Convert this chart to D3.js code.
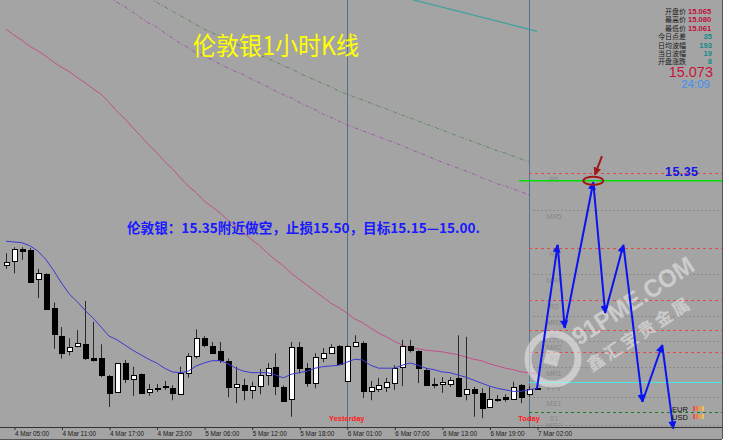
<!DOCTYPE html>
<html><head><meta charset="utf-8">
<script src="https://cdn.jsdelivr.net/npm/d3@7"></script>
<style>body{margin:0;background:#fff;overflow:hidden}</style>
</head><body><svg id="c" width="729" height="446"></svg>
<script>
// ---------- data ----------
const tickBars = [1,7,13,19,25,31,37,43,49,55,61,67];
const tickLabels = ["4 Mar 05:00","4 Mar 11:00","4 Mar 17:00","4 Mar 23:00","5 Mar 06:00","5 Mar 12:00","5 Mar 18:00","6 Mar 01:00","6 Mar 07:00","6 Mar 13:00","6 Mar 19:00","7 Mar 02:00"];
const opens = [15.237,15.243,15.258,15.257,15.219,15.225,15.180,15.142,15.122,15.129,15.131,15.112,15.112,15.089,15.067,15.106,15.085,15.091,15.067,15.071,15.074,15.072,15.064,15.092,15.115,15.139,15.129,15.122,15.108,15.074,15.076,15.070,15.075,15.090,15.101,15.074,15.058,15.127,15.099,15.079,15.112,15.120,15.129,15.082,15.129,15.133,15.068,15.071,15.074,15.079,15.101,15.129,15.122,15.097,15.078,15.078,15.078,15.086,15.064,15.071,15.066,15.047,15.058,15.060,15.058,15.076,15.065,15.072];
const highs = [15.253,15.261,15.261,15.260,15.232,15.226,15.187,15.154,15.139,15.150,15.189,15.161,15.131,15.090,15.106,15.110,15.101,15.092,15.078,15.078,15.082,15.076,15.101,15.119,15.151,15.142,15.134,15.134,15.112,15.101,15.085,15.081,15.098,15.106,15.119,15.076,15.134,15.134,15.106,15.119,15.126,15.131,15.130,15.130,15.143,15.135,15.082,15.086,15.086,15.103,15.137,15.137,15.123,15.099,15.086,15.087,15.087,15.143,15.141,15.074,15.072,15.074,15.063,15.064,15.081,15.078,15.075,15.074];
const lows = [15.232,15.226,15.244,15.214,15.193,15.177,15.125,15.112,15.116,15.127,15.110,15.108,15.087,15.047,15.066,15.079,15.062,15.065,15.062,15.067,15.070,15.056,15.063,15.086,15.112,15.127,15.118,15.106,15.060,15.052,15.056,15.058,15.064,15.076,15.063,15.054,15.034,15.092,15.074,15.072,15.107,15.119,15.103,15.081,15.127,15.059,15.056,15.067,15.067,15.070,15.075,15.120,15.079,15.075,15.072,15.066,15.074,15.060,15.056,15.034,15.032,15.047,15.054,15.054,15.057,15.052,15.061,15.070];
const closes = [15.241,15.258,15.256,15.215,15.226,15.178,15.145,15.120,15.127,15.133,15.113,15.110,15.090,15.066,15.106,15.085,15.090,15.066,15.071,15.072,15.075,15.066,15.092,15.115,15.139,15.130,15.120,15.110,15.074,15.078,15.070,15.075,15.090,15.099,15.075,15.055,15.127,15.099,15.079,15.114,15.120,15.127,15.104,15.129,15.134,15.068,15.074,15.076,15.081,15.099,15.129,15.123,15.099,15.076,15.077,15.081,15.083,15.062,15.071,15.066,15.046,15.058,15.057,15.058,15.074,15.060,15.071,15.073];
const maFast = [15.269,15.268,15.267,15.263,15.256,15.245,15.230,15.213,15.198,15.188,15.176,15.166,15.154,15.142,15.137,15.130,15.123,15.117,15.111,15.106,15.099,15.094,15.093,15.095,15.102,15.106,15.109,15.109,15.105,15.099,15.095,15.093,15.093,15.093,15.090,15.086,15.091,15.093,15.095,15.099,15.101,15.102,15.103,15.107,15.111,15.110,15.103,15.099,15.099,15.099,15.103,15.106,15.103,15.099,15.097,15.094,15.093,15.090,15.087,15.083,15.079,15.075,15.072,15.070,15.068,15.068,15.070,15.072];
const maSlow = [15.553,15.545,15.538,15.530,15.524,15.517,15.509,15.502,15.496,15.488,15.481,15.473,15.466,15.455,15.443,15.433,15.421,15.410,15.398,15.388,15.376,15.366,15.354,15.343,15.334,15.323,15.315,15.307,15.297,15.289,15.280,15.271,15.263,15.253,15.244,15.236,15.226,15.218,15.210,15.202,15.194,15.186,15.180,15.173,15.165,15.160,15.153,15.146,15.141,15.135,15.130,15.126,15.125,15.123,15.122,15.121,15.119,15.117,15.114,15.111,15.109,15.105,15.102,15.099,15.097,15.094,15.093,15.091];
const maGreenStart = 17;
const maGreen = [15.600,15.595,15.589,15.583,15.577,15.571,15.565,15.559,15.553,15.548,15.544,15.538,15.533,15.529,15.524,15.518,15.514,15.509,15.504,15.500,15.494,15.489,15.485,15.480,15.476,15.470,15.466,15.462,15.458,15.454,15.450,15.446,15.442,15.438,15.434,15.430,15.426,15.422,15.418,15.414,15.410,15.406,15.402,15.398,15.394,15.390,15.387,15.383,15.379,15.375];
const maPurpleStart = 13;
const maPurple = [15.596,15.589,15.583,15.576,15.568,15.561,15.556,15.548,15.541,15.534,15.528,15.521,15.517,15.512,15.506,15.501,15.496,15.492,15.486,15.481,15.476,15.470,15.465,15.461,15.455,15.450,15.445,15.439,15.435,15.430,15.425,15.421,15.417,15.413,15.409,15.405,15.401,15.397,15.392,15.388,15.384,15.379,15.375,15.371,15.367,15.363,15.359,15.354,15.350,15.346,15.343,15.339,15.335,15.331];
const trendBars = [50, 67];
const trendVals = [15.596, 15.550];
const pivotNames = ["R5","MR5","R4","MR4","R3","MR3","R2","MR2","R1","MR1","FPV","MS1","S1","MS2"];
const pivotVals  = [15.360,15.311,15.260,15.225,15.190,15.169,15.150,15.135,15.121,15.101,15.081,15.060,15.040,15.023];
const pivotKinds = ["r","m","r","m","r","m","r","m","r","m","p","m","s","m"];
const forecastBars = [67,69.6,70.5,74.1,75.6,77.9,80.3,82.8,84.2];
const forecastVals = [15.072,15.264,15.153,15.348,15.173,15.264,15.054,15.130,15.018];
const targetPrice = 15.35, targetBar = 74.1;
const pointerBars = [75.2, 74.3], pointerVals = [15.383, 15.358];
const yesterdayBar = 43, todayBar = 66;
const infoLabels = ["开盘价","最高价","最低价","今日点差","日均波幅","当日波幅","开盘涨跌"];
const infoValues = ["15.065","15.080","15.061","35","193","19","8"];
const lastPrice = "15.073", barTimer = "24:09";
const titleText = "伦敦银1小时K线";
const noteText = "伦敦银：15.35附近做空，止损15.50，目标15.15—15.00.";

// ---------- layout ----------
const W = 729, H = 446, plotR = 722, plotB = 427, stripB = 439;
const bg = "#a4a4a4";
const svg = d3.select("#c");
svg.append("rect").attr("width",W).attr("height",H).attr("fill","#fff");
svg.append("rect").attr("width",plotR).attr("height",stripB).attr("fill",bg);
const defs = svg.append("defs");
defs.append("clipPath").attr("id","clip").append("rect").attr("width",plotR).attr("height",plotB);
const blueHead = defs.append("marker").attr("id","bh").attr("viewBox","0 0 10 10")
  .attr("refX",9).attr("refY",5).attr("markerWidth",9).attr("markerHeight",8)
  .attr("markerUnits","userSpaceOnUse").attr("orient","auto");
blueHead.append("path").attr("d","M0,0L10,5L0,10z").attr("fill","#0a14f0");
const redHead = defs.append("marker").attr("id","rh").attr("viewBox","0 0 10 10")
  .attr("refX",9).attr("refY",5).attr("markerWidth",8).attr("markerHeight",8)
  .attr("markerUnits","userSpaceOnUse").attr("orient","auto");
redHead.append("path").attr("d","M0,0L10,5L0,10z").attr("fill","#a01818");

const x = d3.scaleLinear().domain([0,67]).range([6,537]);
const y = d3.scaleLinear().domain([15.592,15.022]).range([0,425.69]);

const plot = svg.append("g").attr("clip-path","url(#clip)");

// separators
[yesterdayBar, todayBar].forEach(b=>{
  plot.append("line").attr("x1",Math.round(x(b))+0.5).attr("x2",Math.round(x(b))+0.5)
    .attr("y1",0).attr("y2",plotB).attr("stroke","#55708e").attr("stroke-width",1);
});

// long MAs (dash-dot)
const lineGen = d3.line().x(d=>x(d[0])).y(d=>y(d[1]));
plot.append("path").attr("d",lineGen(maGreen.map((v,i)=>[i+maGreenStart,v])))
  .attr("fill","none").attr("stroke","#5f8a5f").attr("stroke-width",1).attr("stroke-dasharray","4,2,1,2");
plot.append("path").attr("d",lineGen(maPurple.map((v,i)=>[i+maPurpleStart,v])))
  .attr("fill","none").attr("stroke","#a05aa8").attr("stroke-width",1).attr("stroke-dasharray","4,2,1,2");
plot.append("path").attr("d",lineGen(trendBars.map((b,i)=>[b,trendVals[i]])))
  .attr("fill","none").attr("stroke","#3ea0a0").attr("stroke-width",1.2);

// pivot levels
const levelX0 = x(todayBar);
pivotVals.forEach((v,i)=>{
  const k = pivotKinds[i];
  const col = k==="r" ? "#e04a4a" : k==="m" ? "#8a8a8a" : k==="p" ? "#44e6e6" : "#1c7a1c";
  const dash = k==="p" ? null : (k==="m" ? "2,2" : "3,3");
  const yy = Math.round(y(v))+0.5;
  plot.append("line").attr("x1",levelX0).attr("x2",plotR).attr("y1",yy).attr("y2",yy)
    .attr("stroke",col).attr("stroke-width",1).attr("stroke-dasharray",dash);
  plot.append("text").attr("x",554).attr("y",Math.min(yy+8, plotB+1)).attr("text-anchor","middle")
    .attr("font-family","Liberation Sans, Arial, sans-serif").attr("font-size",7.2)
    .attr("fill","#888").text(pivotNames[i]);
});
// target line
plot.append("line").attr("x1",x(64.75)).attr("x2",plotR).attr("y1",y(targetPrice)).attr("y2",y(targetPrice))
  .attr("stroke","#00e000").attr("stroke-width",1.6);

// slow MA
plot.append("path").attr("d",lineGen(maSlow.map((v,i)=>[i,v])))
  .attr("fill","none").attr("stroke","#c0508a").attr("stroke-width",1);

// candles
const bars = d3.range(opens.length);
const cg = plot.append("g");
bars.forEach(i=>{
  const cx = Math.round(x(i));
  cg.append("line").attr("x1",cx+0.5).attr("x2",cx+0.5).attr("y1",y(highs[i])).attr("y2",y(lows[i]))
    .attr("stroke","#2a2a2a").attr("stroke-width",1);
  const top = Math.round(y(Math.max(opens[i],closes[i])));
  const bot = Math.round(y(Math.min(opens[i],closes[i])));
  const up = closes[i] >= opens[i];
  cg.append("rect").attr("x",cx-2+0.5).attr("y",top+0.5).attr("width",5).attr("height",Math.max(1,bot-top))
    .attr("fill", up ? "#ffffff" : "#000000").attr("stroke","#000").attr("stroke-width",1);
});

// fast MA
plot.append("path").attr("d",lineGen(maFast.map((v,i)=>[i,v])))
  .attr("fill","none").attr("stroke","#3a3ad0").attr("stroke-width",1);

// watermark
const wm = svg.append("g").attr("opacity",0.5);
wm.append("circle").attr("cx",553).attr("cy",359).attr("r",25).attr("fill","none").attr("stroke","#f4f4f4").attr("stroke-width",7);
wm.append("rect").attr("x",545).attr("y",351).attr("width",14).attr("height",14).attr("fill","#f4f4f4")
  .attr("transform","rotate(15,552,358)");
wm.append("text").attr("transform","translate(579,346) rotate(-33)")
  .attr("font-family","Liberation Sans, Arial, sans-serif").attr("font-weight","bold").attr("font-size",25)
  .attr("fill","#f4f4f4").attr("textLength",140).attr("lengthAdjust","spacingAndGlyphs").text("91PME.COM");
wm.append("text").attr("transform","translate(592,372) rotate(-33)")
  .attr("font-family","Noto Sans CJK SC, sans-serif").attr("font-weight","bold").attr("font-size",17)
  .attr("fill","#f4f4f4").attr("textLength",118).text("鑫汇宝贵金属");

// forecast zigzag
const fg = svg.append("g");
for (let i=0;i<forecastBars.length-1;i++){
  fg.append("line").attr("x1",x(forecastBars[i])).attr("y1",y(forecastVals[i]))
    .attr("x2",x(forecastBars[i+1])).attr("y2",y(forecastVals[i+1]))
    .attr("stroke","#0a14f0").attr("stroke-width",2).attr("marker-end","url(#bh)");
}
// ellipse + pointer
svg.append("ellipse").attr("cx",x(targetBar)).attr("cy",y(targetPrice)).attr("rx",10).attr("ry",4)
  .attr("fill","none").attr("stroke","#a01818").attr("stroke-width",2);
svg.append("line").attr("x1",x(pointerBars[0])).attr("y1",y(pointerVals[0]))
  .attr("x2",x(pointerBars[1])).attr("y2",y(pointerVals[1]))
  .attr("stroke","#a01818").attr("stroke-width",2).attr("marker-end","url(#rh)");

// 15.35 label
svg.append("text").attr("x",665).attr("y",y(targetPrice)-5)
  .attr("font-family","Liberation Sans, Arial, sans-serif").attr("font-weight","bold").attr("font-size",12.5)
  .attr("fill","#1414e6").attr("textLength",33).text(String(targetPrice.toFixed(2)));

// EUR / USD strength
const curr = ["EUR","USD"];
const strengthCols = ["#e85050","#ee7a40","#f0a048","#f2c060"];
curr.forEach((c,j)=>{
  svg.append("text").attr("x",672).attr("y",412+j*8).attr("font-family","Liberation Sans, Arial, sans-serif")
    .attr("font-size",7.5).attr("fill","#111").text(c);
  strengthCols.forEach((col,k)=>{
    svg.append("rect").attr("x",693+k*3).attr("y",406+j*8).attr("width",2).attr("height",5).attr("fill",col);
  });
});

// titles
svg.append("text").attr("x",193).attr("y",55).attr("font-family","Noto Sans CJK SC, sans-serif")
  .attr("font-size",25).attr("fill","#ffff00").attr("textLength",166).attr("lengthAdjust","spacingAndGlyphs").text(titleText);
svg.append("text").attr("x",127).attr("y",233).attr("font-family","Noto Sans CJK SC, sans-serif")
  .attr("font-weight","bold").attr("font-size",13.5).attr("fill","#1a1aff")
  .attr("textLength",353).attr("lengthAdjust","spacingAndGlyphs").text(noteText);

// info panel
infoLabels.forEach((t,i)=>{
  const yy = 14 + i*8.4;
  svg.append("text").attr("x",686).attr("y",yy).attr("text-anchor","end")
    .attr("font-family","Noto Sans CJK SC, sans-serif").attr("font-size",7).attr("fill","#1a1a1a").text(t);
  svg.append("text").attr("x",i<3?688:712).attr("y",yy).attr("text-anchor",i<3?"start":"end")
    .attr("font-family","Liberation Sans, Arial, sans-serif").attr("font-weight","bold").attr("font-size",7.6)
    .attr("fill", i<3 ? "#c0103c" : "#148a8a").text(infoValues[i]);
});
svg.append("text").attr("x",713).attr("y",77).attr("text-anchor","end")
  .attr("font-family","Liberation Sans, Arial, sans-serif").attr("font-size",14.5).attr("fill","#c8143c").text(lastPrice);
svg.append("text").attr("x",710).attr("y",88).attr("text-anchor","end")
  .attr("font-family","Liberation Sans, Arial, sans-serif").attr("font-size",11.5).attr("fill","#3f8ff5").text(barTimer);

// day labels
svg.append("text").attr("x",x(yesterdayBar)).attr("y",421).attr("text-anchor","middle")
  .attr("font-family","Liberation Sans, Arial, sans-serif").attr("font-weight","bold").attr("font-size",7.5)
  .attr("fill","#ff1a1a").text("Yesterday");
svg.append("text").attr("x",x(todayBar)).attr("y",421).attr("text-anchor","middle")
  .attr("font-family","Liberation Sans, Arial, sans-serif").attr("font-weight","bold").attr("font-size",7.5)
  .attr("fill","#ff1a1a").text("Today");

// x axis
const axis = d3.axisBottom(x).tickValues(tickBars).tickFormat((d,i)=>tickLabels[i]).tickSize(3).tickSizeOuter(0);
const ag = svg.append("g").attr("transform",`translate(0.5,${plotB})`).call(axis);
ag.select(".domain").remove();
ag.selectAll(".tick line").attr("stroke","#333");
ag.selectAll(".tick text").attr("text-anchor","start").attr("dx",0).attr("y",4)
  .attr("font-family","Liberation Sans, Arial, sans-serif").attr("font-size",6.4).attr("fill","#1a1a1a");
svg.append("line").attr("x1",0).attr("x2",plotR).attr("y1",plotB+0.5).attr("y2",plotB+0.5).attr("stroke","#333");
svg.append("line").attr("x1",0).attr("x2",plotR).attr("y1",stripB+0.5).attr("y2",stripB+0.5).attr("stroke","#555");
svg.append("line").attr("x1",plotR+0.5).attr("x2",plotR+0.5).attr("y1",0).attr("y2",stripB).attr("stroke","#555");
</script></body></html>
